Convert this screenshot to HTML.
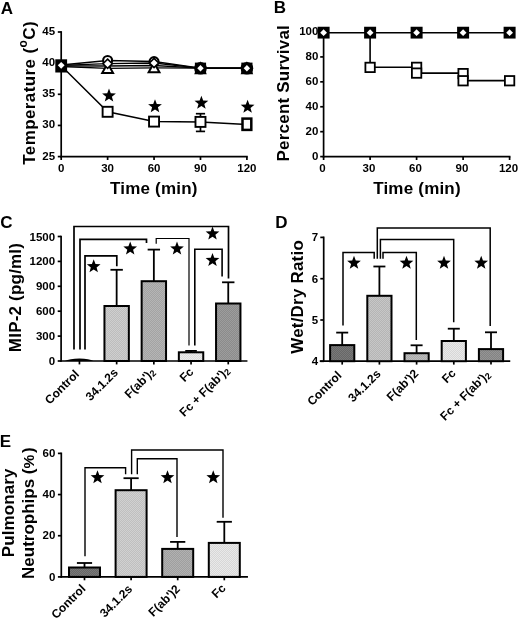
<!DOCTYPE html>
<html><head><meta charset="utf-8"><style>
html,body{margin:0;padding:0;background:#fff;}
svg{display:block;filter:grayscale(1) blur(0.3px);}
text{font-family:"Liberation Sans", sans-serif;font-weight:bold;fill:#000;}
</style></head><body>
<svg width="520" height="619" viewBox="0 0 520 619">
<defs><pattern id="pc6" width="2" height="2" patternUnits="userSpaceOnUse"><rect width="2" height="2" fill="#bdbdbd"/><rect width="1" height="1" fill="#cfcfcf"/><rect x="1" y="1" width="1" height="1" fill="#cfcfcf"/></pattern><pattern id="pac" width="2" height="2" patternUnits="userSpaceOnUse"><rect width="2" height="2" fill="#a3a3a3"/><rect width="1" height="1" fill="#b5b5b5"/><rect x="1" y="1" width="1" height="1" fill="#b5b5b5"/></pattern><pattern id="pe4" width="2" height="2" patternUnits="userSpaceOnUse"><rect width="2" height="2" fill="#dbdbdb"/><rect width="1" height="1" fill="#ededed"/><rect x="1" y="1" width="1" height="1" fill="#ededed"/></pattern><pattern id="p94" width="2" height="2" patternUnits="userSpaceOnUse"><rect width="2" height="2" fill="#8b8b8b"/><rect width="1" height="1" fill="#9d9d9d"/><rect x="1" y="1" width="1" height="1" fill="#9d9d9d"/></pattern><pattern id="p70" width="2" height="2" patternUnits="userSpaceOnUse"><rect width="2" height="2" fill="#676767"/><rect width="1" height="1" fill="#797979"/><rect x="1" y="1" width="1" height="1" fill="#797979"/></pattern><pattern id="pbe" width="2" height="2" patternUnits="userSpaceOnUse"><rect width="2" height="2" fill="#b5b5b5"/><rect width="1" height="1" fill="#c7c7c7"/><rect x="1" y="1" width="1" height="1" fill="#c7c7c7"/></pattern><pattern id="pb4" width="2" height="2" patternUnits="userSpaceOnUse"><rect width="2" height="2" fill="#ababab"/><rect width="1" height="1" fill="#bdbdbd"/><rect x="1" y="1" width="1" height="1" fill="#bdbdbd"/></pattern><pattern id="pe0" width="2" height="2" patternUnits="userSpaceOnUse"><rect width="2" height="2" fill="#d7d7d7"/><rect width="1" height="1" fill="#e9e9e9"/><rect x="1" y="1" width="1" height="1" fill="#e9e9e9"/></pattern><pattern id="p8c" width="2" height="2" patternUnits="userSpaceOnUse"><rect width="2" height="2" fill="#838383"/><rect width="1" height="1" fill="#959595"/><rect x="1" y="1" width="1" height="1" fill="#959595"/></pattern><pattern id="pc8" width="2" height="2" patternUnits="userSpaceOnUse"><rect width="2" height="2" fill="#bfbfbf"/><rect width="1" height="1" fill="#d1d1d1"/><rect x="1" y="1" width="1" height="1" fill="#d1d1d1"/></pattern><pattern id="pa8" width="2" height="2" patternUnits="userSpaceOnUse"><rect width="2" height="2" fill="#9f9f9f"/><rect width="1" height="1" fill="#b1b1b1"/><rect x="1" y="1" width="1" height="1" fill="#b1b1b1"/></pattern></defs>
<rect width="520" height="619" fill="#fff"/>
<text id="tA" x="0.80" y="13.90" font-size="17" text-anchor="start">A</text>
<text id="tB" x="273.80" y="13.40" font-size="17" text-anchor="start">B</text>
<text id="tC" x="0.20" y="228.40" font-size="17" text-anchor="start">C</text>
<text id="tD" x="275.20" y="228.20" font-size="17" text-anchor="start">D</text>
<text id="tE" x="-0.30" y="446.60" font-size="17" text-anchor="start">E</text>
<line x1="61.20" y1="31.15" x2="61.20" y2="157.45" stroke="#000" stroke-width="1.7"/>
<line x1="57.80" y1="32.00" x2="61.20" y2="32.00" stroke="#000" stroke-width="1.7"/>
<text id="Ay45" x="55.10" y="35.00" font-size="11.5" text-anchor="end">45</text>
<line x1="57.80" y1="63.15" x2="61.20" y2="63.15" stroke="#000" stroke-width="1.7"/>
<text id="Ay40" x="55.10" y="66.15" font-size="11.5" text-anchor="end">40</text>
<line x1="57.80" y1="94.30" x2="61.20" y2="94.30" stroke="#000" stroke-width="1.7"/>
<text id="Ay35" x="55.10" y="97.30" font-size="11.5" text-anchor="end">35</text>
<line x1="57.80" y1="125.45" x2="61.20" y2="125.45" stroke="#000" stroke-width="1.7"/>
<text id="Ay30" x="55.10" y="128.45" font-size="11.5" text-anchor="end">30</text>
<line x1="57.80" y1="156.60" x2="61.20" y2="156.60" stroke="#000" stroke-width="1.7"/>
<text id="Ay25" x="55.10" y="159.60" font-size="11.5" text-anchor="end">25</text>
<line x1="60.35" y1="156.60" x2="247.75" y2="156.60" stroke="#000" stroke-width="1.7"/>
<line x1="61.20" y1="156.60" x2="61.20" y2="160.00" stroke="#000" stroke-width="1.7"/>
<text id="Ax0" x="61.20" y="172.20" font-size="11.5" text-anchor="middle">0</text>
<line x1="107.62" y1="156.60" x2="107.62" y2="160.00" stroke="#000" stroke-width="1.7"/>
<text id="Ax30" x="107.62" y="172.20" font-size="11.5" text-anchor="middle">30</text>
<line x1="154.05" y1="156.60" x2="154.05" y2="160.00" stroke="#000" stroke-width="1.7"/>
<text id="Ax60" x="154.05" y="172.20" font-size="11.5" text-anchor="middle">60</text>
<line x1="200.48" y1="156.60" x2="200.48" y2="160.00" stroke="#000" stroke-width="1.7"/>
<text id="Ax90" x="200.48" y="172.20" font-size="11.5" text-anchor="middle">90</text>
<line x1="246.90" y1="156.60" x2="246.90" y2="160.00" stroke="#000" stroke-width="1.7"/>
<text id="Ax120" x="246.90" y="172.20" font-size="11.5" text-anchor="middle">120</text>
<text id="timeA" x="153.80" y="193.50" font-size="17" text-anchor="middle" letter-spacing="0.2">Time (min)</text>
<text id="tempA" x="0" y="0" font-size="17" text-anchor="middle" letter-spacing="0.4" transform="translate(34.50,92.80) rotate(-90)">Temperature (<tspan font-size="12" dy="-7.7">o</tspan><tspan dy="7.7">C)</tspan></text>
<polyline points="61.20,65.00 107.62,60.50 154.05,61.50 200.48,68.20 246.90,68.20" fill="none" stroke="#000" stroke-width="1.3" stroke-linejoin="miter"/>
<polyline points="61.20,65.30 107.62,63.70 154.05,63.00 200.48,68.20 246.90,68.20" fill="none" stroke="#000" stroke-width="1.3" stroke-linejoin="miter"/>
<polyline points="61.20,66.50 107.62,68.30 154.05,67.80 200.48,68.20 246.90,68.20" fill="none" stroke="#000" stroke-width="1.3" stroke-linejoin="miter"/>
<polyline points="61.20,65.80 107.62,66.00 154.05,65.50 200.48,68.20 246.90,68.20" fill="none" stroke="#000" stroke-width="1.3" stroke-linejoin="miter"/>
<polyline points="61.20,65.80 107.62,111.80 154.05,121.60 200.48,121.90 246.90,124.60" fill="none" stroke="#000" stroke-width="1.5" stroke-linejoin="miter"/>
<line x1="200.48" y1="113.70" x2="200.48" y2="131.40" stroke="#000" stroke-width="1.7"/>
<line x1="195.88" y1="113.70" x2="205.08" y2="113.70" stroke="#000" stroke-width="1.7"/>
<line x1="195.88" y1="131.40" x2="205.08" y2="131.40" stroke="#000" stroke-width="1.7"/>
<rect x="102.62" y="106.80" width="10.0" height="10.0" fill="#fff" stroke="#000" stroke-width="1.9"/>
<rect x="149.05" y="116.60" width="10.0" height="10.0" fill="#fff" stroke="#000" stroke-width="1.9"/>
<rect x="195.48" y="116.90" width="10.0" height="10.0" fill="#fff" stroke="#000" stroke-width="1.9"/>
<rect x="242.50" y="118.6" width="8.8" height="11.3" fill="#fff" stroke="#000" stroke-width="2.5"/>
<rect x="55.30" y="59.3" width="11.8" height="13.2" fill="#000"/>
<polygon points="61.20,61.90 64.60,65.30 61.20,68.70 57.80,65.30" fill="#fff"/>
<polygon points="107.62,63.30 113.03,72.90 102.22,72.90" fill="#fff" stroke="#000" stroke-width="2"/>
<circle cx="107.62" cy="60.50" r="4.5" fill="#fff" stroke="#000" stroke-width="2.1"/>
<polygon points="107.62,59.10 112.22,63.70 107.62,68.30 103.03,63.70" fill="#fff" stroke="#000" stroke-width="1.6"/>
<polygon points="154.05,62.60 159.45,72.20 148.65,72.20" fill="#fff" stroke="#000" stroke-width="2"/>
<circle cx="154.05" cy="61.60" r="4.5" fill="#fff" stroke="#000" stroke-width="2.1"/>
<polygon points="154.05,58.40 158.65,63.00 154.05,67.60 149.45,63.00" fill="#fff" stroke="#000" stroke-width="1.6"/>
<rect x="194.88" y="62.60" width="11.2" height="11.2" fill="#000"/>
<circle cx="200.48" cy="68.20" r="6.3" fill="#000"/>
<polygon points="200.48,61.30 206.78,74.20 194.18,74.20" fill="#000"/>
<polygon points="200.48,65.00 203.68,68.20 200.48,71.40 197.28,68.20" fill="#fff"/>
<rect x="241.30" y="62.60" width="11.2" height="11.2" fill="#000"/>
<circle cx="246.90" cy="68.20" r="6.3" fill="#000"/>
<polygon points="246.90,61.30 253.20,74.20 240.60,74.20" fill="#000"/>
<polygon points="246.90,65.00 250.10,68.20 246.90,71.40 243.70,68.20" fill="#fff"/>
<polygon points="109.00,88.45 110.79,93.24 115.90,93.46 111.90,96.64 113.26,101.57 109.00,98.75 104.74,101.57 106.10,96.64 102.10,93.46 107.21,93.24" fill="#000"/>
<polygon points="155.00,99.15 156.79,103.94 161.90,104.16 157.90,107.34 159.26,112.27 155.00,109.45 150.74,112.27 152.10,107.34 148.10,104.16 153.21,103.94" fill="#000"/>
<polygon points="201.40,95.75 203.19,100.54 208.30,100.76 204.30,103.94 205.66,108.87 201.40,106.05 197.14,108.87 198.50,103.94 194.50,100.76 199.61,100.54" fill="#000"/>
<polygon points="247.60,99.75 249.39,104.54 254.50,104.76 250.50,107.94 251.86,112.87 247.60,110.05 243.34,112.87 244.70,107.94 240.70,104.76 245.81,104.54" fill="#000"/>
<line x1="323.60" y1="31.15" x2="323.60" y2="157.45" stroke="#000" stroke-width="1.7"/>
<line x1="320.20" y1="32.00" x2="323.60" y2="32.00" stroke="#000" stroke-width="1.7"/>
<text id="By100" x="318.40" y="35.30" font-size="11.5" text-anchor="end">100</text>
<line x1="320.20" y1="56.92" x2="323.60" y2="56.92" stroke="#000" stroke-width="1.7"/>
<text id="By80" x="318.40" y="60.22" font-size="11.5" text-anchor="end">80</text>
<line x1="320.20" y1="81.84" x2="323.60" y2="81.84" stroke="#000" stroke-width="1.7"/>
<text id="By60" x="318.40" y="85.14" font-size="11.5" text-anchor="end">60</text>
<line x1="320.20" y1="106.76" x2="323.60" y2="106.76" stroke="#000" stroke-width="1.7"/>
<text id="By40" x="318.40" y="110.06" font-size="11.5" text-anchor="end">40</text>
<line x1="320.20" y1="131.68" x2="323.60" y2="131.68" stroke="#000" stroke-width="1.7"/>
<text id="By20" x="318.40" y="134.98" font-size="11.5" text-anchor="end">20</text>
<line x1="320.20" y1="156.60" x2="323.60" y2="156.60" stroke="#000" stroke-width="1.7"/>
<text id="By0" x="318.40" y="159.90" font-size="11.5" text-anchor="end">0</text>
<line x1="322.75" y1="156.60" x2="510.45" y2="156.60" stroke="#000" stroke-width="1.7"/>
<line x1="323.60" y1="156.60" x2="323.60" y2="160.00" stroke="#000" stroke-width="1.7"/>
<text id="Bx0" x="322.50" y="172.20" font-size="11.5" text-anchor="middle">0</text>
<line x1="370.10" y1="156.60" x2="370.10" y2="160.00" stroke="#000" stroke-width="1.7"/>
<text id="Bx30" x="369.00" y="172.20" font-size="11.5" text-anchor="middle">30</text>
<line x1="416.60" y1="156.60" x2="416.60" y2="160.00" stroke="#000" stroke-width="1.7"/>
<text id="Bx60" x="415.50" y="172.20" font-size="11.5" text-anchor="middle">60</text>
<line x1="463.10" y1="156.60" x2="463.10" y2="160.00" stroke="#000" stroke-width="1.7"/>
<text id="Bx90" x="462.00" y="172.20" font-size="11.5" text-anchor="middle">90</text>
<line x1="509.60" y1="156.60" x2="509.60" y2="160.00" stroke="#000" stroke-width="1.7"/>
<text id="Bx120" x="508.50" y="172.20" font-size="11.5" text-anchor="middle">120</text>
<text id="timeB" x="417.00" y="194.10" font-size="17" text-anchor="middle" letter-spacing="0.2">Time (min)</text>
<text id="percB" x="0" y="0" font-size="17" text-anchor="middle" letter-spacing="0.2" transform="translate(289.40,93.20) rotate(-90)">Percent Survival</text>
<line x1="323.60" y1="32.70" x2="509.60" y2="32.70" stroke="#000" stroke-width="1.6"/>
<polyline points="370.10,32.70 370.10,67.30 416.60,67.30" fill="none" stroke="#000" stroke-width="1.6" stroke-linejoin="miter"/>
<polyline points="416.60,73.10 463.10,73.10" fill="none" stroke="#000" stroke-width="1.6" stroke-linejoin="miter"/>
<polyline points="463.10,80.60 509.60,80.60" fill="none" stroke="#000" stroke-width="1.6" stroke-linejoin="miter"/>
<rect x="365.40" y="62.70" width="9.4" height="9.4" fill="#fff" stroke="#000" stroke-width="1.8"/>
<rect x="411.90" y="62.65" width="9.4" height="9.4" fill="#fff" stroke="#000" stroke-width="1.8"/>
<rect x="411.90" y="68.40" width="9.4" height="9.4" fill="#fff" stroke="#000" stroke-width="1.8"/>
<rect x="458.40" y="68.90" width="9.4" height="9.4" fill="#fff" stroke="#000" stroke-width="1.8"/>
<rect x="458.40" y="76.05" width="9.4" height="9.4" fill="#fff" stroke="#000" stroke-width="1.8"/>
<rect x="504.90" y="76.05" width="9.4" height="9.4" fill="#fff" stroke="#000" stroke-width="1.8"/>
<rect x="317.60" y="26.75" width="12" height="11.8" fill="#000"/>
<polygon points="323.60,29.25 327.00,32.65 323.60,36.05 320.20,32.65" fill="#fff"/>
<rect x="364.10" y="26.75" width="12" height="11.8" fill="#000"/>
<polygon points="370.10,29.25 373.50,32.65 370.10,36.05 366.70,32.65" fill="#fff"/>
<rect x="410.60" y="26.75" width="12" height="11.8" fill="#000"/>
<polygon points="416.60,29.25 420.00,32.65 416.60,36.05 413.20,32.65" fill="#fff"/>
<rect x="457.10" y="26.75" width="12" height="11.8" fill="#000"/>
<polygon points="463.10,29.25 466.50,32.65 463.10,36.05 459.70,32.65" fill="#fff"/>
<rect x="503.60" y="26.75" width="12" height="11.8" fill="#000"/>
<polygon points="509.60,29.25 513.00,32.65 509.60,36.05 506.20,32.65" fill="#fff"/>
<line x1="61.10" y1="235.65" x2="61.10" y2="361.85" stroke="#000" stroke-width="1.7"/>
<line x1="57.70" y1="236.50" x2="61.10" y2="236.50" stroke="#000" stroke-width="1.7"/>
<text id="Cy1500" x="55.10" y="240.50" font-size="11.5" text-anchor="end">1500</text>
<line x1="57.70" y1="261.40" x2="61.10" y2="261.40" stroke="#000" stroke-width="1.7"/>
<text id="Cy1200" x="55.10" y="265.40" font-size="11.5" text-anchor="end">1200</text>
<line x1="57.70" y1="286.30" x2="61.10" y2="286.30" stroke="#000" stroke-width="1.7"/>
<text id="Cy900" x="55.10" y="290.30" font-size="11.5" text-anchor="end">900</text>
<line x1="57.70" y1="311.20" x2="61.10" y2="311.20" stroke="#000" stroke-width="1.7"/>
<text id="Cy600" x="55.10" y="315.20" font-size="11.5" text-anchor="end">600</text>
<line x1="57.70" y1="336.10" x2="61.10" y2="336.10" stroke="#000" stroke-width="1.7"/>
<text id="Cy300" x="55.10" y="340.10" font-size="11.5" text-anchor="end">300</text>
<line x1="57.70" y1="361.00" x2="61.10" y2="361.00" stroke="#000" stroke-width="1.7"/>
<text id="Cy0" x="55.10" y="365.00" font-size="11.5" text-anchor="end">0</text>
<line x1="60.25" y1="361.00" x2="247.45" y2="361.00" stroke="#000" stroke-width="1.7"/>
<line x1="79.45" y1="361.00" x2="79.45" y2="364.40" stroke="#000" stroke-width="1.7"/>
<line x1="116.65" y1="361.00" x2="116.65" y2="364.40" stroke="#000" stroke-width="1.7"/>
<line x1="153.85" y1="361.00" x2="153.85" y2="364.40" stroke="#000" stroke-width="1.7"/>
<line x1="191.05" y1="361.00" x2="191.05" y2="364.40" stroke="#000" stroke-width="1.7"/>
<line x1="228.25" y1="361.00" x2="228.25" y2="364.40" stroke="#000" stroke-width="1.7"/>
<line x1="116.65" y1="306.00" x2="116.65" y2="269.80" stroke="#000" stroke-width="1.8"/>
<line x1="110.45" y1="269.80" x2="122.85" y2="269.80" stroke="#000" stroke-width="1.8"/>
<line x1="153.85" y1="281.20" x2="153.85" y2="249.60" stroke="#000" stroke-width="1.8"/>
<line x1="147.65" y1="249.60" x2="160.05" y2="249.60" stroke="#000" stroke-width="1.8"/>
<line x1="191.05" y1="352.30" x2="191.05" y2="350.90" stroke="#000" stroke-width="1.8"/>
<line x1="185.25" y1="350.90" x2="196.85" y2="350.90" stroke="#000" stroke-width="1.8"/>
<line x1="228.25" y1="303.50" x2="228.25" y2="282.30" stroke="#000" stroke-width="1.8"/>
<line x1="222.05" y1="282.30" x2="234.45" y2="282.30" stroke="#000" stroke-width="1.8"/>
<path d="M64.85,361.00 Q69.45,358.40 79.45,358.40 Q89.45,358.40 93.45,361.00 Z" fill="#000"/>
<rect x="104.45" y="306.00" width="24.40" height="55.00" fill="url(#pc6)" stroke="#000" stroke-width="2"/>
<rect x="141.65" y="281.20" width="24.40" height="79.80" fill="url(#pac)" stroke="#000" stroke-width="2"/>
<rect x="178.85" y="352.30" width="24.40" height="8.70" fill="url(#pe4)" stroke="#000" stroke-width="2"/>
<rect x="216.05" y="303.50" width="24.40" height="57.50" fill="url(#p94)" stroke="#000" stroke-width="2"/>
<polyline points="74.00,349.60 74.00,226.50 228.50,226.50 228.50,278.50" fill="none" stroke="#000" stroke-width="1.7" stroke-linejoin="miter"/>
<polyline points="80.00,349.60 80.00,239.40 146.50,239.40 146.50,243.00" fill="none" stroke="#000" stroke-width="1.7" stroke-linejoin="miter"/>
<polyline points="85.00,349.60 85.00,255.80 116.80,255.80 116.80,266.20" fill="none" stroke="#000" stroke-width="1.7" stroke-linejoin="miter"/>
<polyline points="156.20,243.80 156.20,238.50 189.00,238.50 189.00,345.50" fill="none" stroke="#000" stroke-width="1.2" stroke-linejoin="miter"/>
<polyline points="194.80,345.50 194.80,249.20 222.10,249.20 222.10,276.50" fill="none" stroke="#000" stroke-width="1.6" stroke-linejoin="miter"/>
<polygon points="93.70,259.30 95.48,264.05 100.55,264.28 96.58,267.43 97.93,272.32 93.70,269.52 89.47,272.32 90.82,267.43 86.85,264.28 91.92,264.05" fill="#000"/>
<polygon points="130.20,241.50 131.98,246.25 137.05,246.48 133.08,249.63 134.43,254.52 130.20,251.72 125.97,254.52 127.32,249.63 123.35,246.48 128.42,246.25" fill="#000"/>
<polygon points="177.00,241.50 178.78,246.25 183.85,246.48 179.88,249.63 181.23,254.52 177.00,251.72 172.77,254.52 174.12,249.63 170.15,246.48 175.22,246.25" fill="#000"/>
<polygon points="212.50,226.50 214.28,231.25 219.35,231.48 215.38,234.63 216.73,239.52 212.50,236.72 208.27,239.52 209.62,234.63 205.65,231.48 210.72,231.25" fill="#000"/>
<polygon points="212.50,253.00 214.28,257.75 219.35,257.98 215.38,261.13 216.73,266.02 212.50,263.22 208.27,266.02 209.62,261.13 205.65,257.98 210.72,257.75" fill="#000"/>
<text id="mipC" x="0" y="0" font-size="17" text-anchor="middle" letter-spacing="0.2" transform="translate(20.60,297.50) rotate(-90)">MIP-2 (pg/ml)</text>
<text id="rC0" x="0" y="0" font-size="12" text-anchor="end" transform="translate(79.95,374.90) rotate(-45)">Control</text>
<text id="rC1" x="0" y="0" font-size="12" text-anchor="end" transform="translate(118.75,373.20) rotate(-45)">34.1.2s</text>
<text id="rC2" x="0" y="0" font-size="12" text-anchor="end" transform="translate(155.75,372.70) rotate(-45)">F(ab')<tspan font-size="9" dy="1.5">2</tspan></text>
<text id="rC3" x="0" y="0" font-size="12" text-anchor="end" transform="translate(194.35,372.70) rotate(-45)">Fc</text>
<text id="rC4" x="0" y="0" font-size="12" text-anchor="end" transform="translate(230.15,371.40) rotate(-45)">Fc + F(ab')<tspan font-size="9" dy="1.5">2</tspan></text>
<line x1="323.70" y1="236.55" x2="323.70" y2="362.05" stroke="#000" stroke-width="1.7"/>
<line x1="320.30" y1="237.40" x2="323.70" y2="237.40" stroke="#000" stroke-width="1.7"/>
<text id="Dy7" x="318.20" y="241.30" font-size="11.5" text-anchor="end">7</text>
<line x1="320.30" y1="278.70" x2="323.70" y2="278.70" stroke="#000" stroke-width="1.7"/>
<text id="Dy6" x="318.20" y="282.60" font-size="11.5" text-anchor="end">6</text>
<line x1="320.30" y1="320.00" x2="323.70" y2="320.00" stroke="#000" stroke-width="1.7"/>
<text id="Dy5" x="318.20" y="323.90" font-size="11.5" text-anchor="end">5</text>
<line x1="320.30" y1="361.30" x2="323.70" y2="361.30" stroke="#000" stroke-width="1.7"/>
<text id="Dy4" x="318.20" y="365.20" font-size="11.5" text-anchor="end">4</text>
<line x1="319.75" y1="361.20" x2="510.25" y2="361.20" stroke="#000" stroke-width="1.7"/>
<line x1="342.20" y1="361.20" x2="342.20" y2="364.60" stroke="#000" stroke-width="1.7"/>
<line x1="379.40" y1="361.20" x2="379.40" y2="364.60" stroke="#000" stroke-width="1.7"/>
<line x1="416.60" y1="361.20" x2="416.60" y2="364.60" stroke="#000" stroke-width="1.7"/>
<line x1="453.80" y1="361.20" x2="453.80" y2="364.60" stroke="#000" stroke-width="1.7"/>
<line x1="491.00" y1="361.20" x2="491.00" y2="364.60" stroke="#000" stroke-width="1.7"/>
<line x1="342.20" y1="345.10" x2="342.20" y2="332.60" stroke="#000" stroke-width="1.8"/>
<line x1="336.20" y1="332.60" x2="348.20" y2="332.60" stroke="#000" stroke-width="1.8"/>
<line x1="379.40" y1="295.80" x2="379.40" y2="266.50" stroke="#000" stroke-width="1.8"/>
<line x1="373.40" y1="266.50" x2="385.40" y2="266.50" stroke="#000" stroke-width="1.8"/>
<line x1="416.60" y1="353.20" x2="416.60" y2="345.30" stroke="#000" stroke-width="1.8"/>
<line x1="410.60" y1="345.30" x2="422.60" y2="345.30" stroke="#000" stroke-width="1.8"/>
<line x1="453.80" y1="341.00" x2="453.80" y2="328.70" stroke="#000" stroke-width="1.8"/>
<line x1="447.80" y1="328.70" x2="459.80" y2="328.70" stroke="#000" stroke-width="1.8"/>
<line x1="491.00" y1="349.10" x2="491.00" y2="332.30" stroke="#000" stroke-width="1.8"/>
<line x1="485.00" y1="332.30" x2="497.00" y2="332.30" stroke="#000" stroke-width="1.8"/>
<rect x="330.10" y="345.10" width="24.20" height="16.10" fill="url(#p70)" stroke="#000" stroke-width="2"/>
<rect x="367.30" y="295.80" width="24.20" height="65.40" fill="url(#pbe)" stroke="#000" stroke-width="2"/>
<rect x="404.50" y="353.20" width="24.20" height="8.00" fill="url(#pb4)" stroke="#000" stroke-width="2"/>
<rect x="441.70" y="341.00" width="24.20" height="20.20" fill="url(#pe0)" stroke="#000" stroke-width="2"/>
<rect x="478.90" y="349.10" width="24.20" height="12.10" fill="url(#p8c)" stroke="#000" stroke-width="2"/>
<polyline points="343.00,325.40 343.00,252.50 374.20,252.50 374.20,258.80" fill="none" stroke="#000" stroke-width="1.5" stroke-linejoin="miter"/>
<polyline points="377.30,258.80 377.30,227.90 490.20,227.90 490.20,326.10" fill="none" stroke="#000" stroke-width="1.5" stroke-linejoin="miter"/>
<polyline points="380.40,258.80 380.40,239.40 453.70,239.40 453.70,322.30" fill="none" stroke="#000" stroke-width="1.5" stroke-linejoin="miter"/>
<polyline points="383.00,258.80 383.00,252.50 416.30,252.50 416.30,339.90" fill="none" stroke="#000" stroke-width="1.5" stroke-linejoin="miter"/>
<polygon points="354.00,255.80 355.78,260.55 360.85,260.78 356.88,263.93 358.23,268.82 354.00,266.02 349.77,268.82 351.12,263.93 347.15,260.78 352.22,260.55" fill="#000"/>
<polygon points="406.50,255.80 408.28,260.55 413.35,260.78 409.38,263.93 410.73,268.82 406.50,266.02 402.27,268.82 403.62,263.93 399.65,260.78 404.72,260.55" fill="#000"/>
<polygon points="444.00,255.80 445.78,260.55 450.85,260.78 446.88,263.93 448.23,268.82 444.00,266.02 439.77,268.82 441.12,263.93 437.15,260.78 442.22,260.55" fill="#000"/>
<polygon points="481.20,255.80 482.98,260.55 488.05,260.78 484.08,263.93 485.43,268.82 481.20,266.02 476.97,268.82 478.32,263.93 474.35,260.78 479.42,260.55" fill="#000"/>
<text id="wetD" x="0" y="0" font-size="17" text-anchor="middle" letter-spacing="0.2" transform="translate(303.10,296.90) rotate(-90)">Wet/Dry Ratio</text>
<text id="rD0" x="0" y="0" font-size="12" text-anchor="end" transform="translate(342.40,376.10) rotate(-45)">Control</text>
<text id="rD1" x="0" y="0" font-size="12" text-anchor="end" transform="translate(381.40,374.50) rotate(-45)">34.1.2s</text>
<text id="rD2" x="0" y="0" font-size="12" text-anchor="end" transform="translate(419.10,374.20) rotate(-45)">F(ab')2</text>
<text id="rD3" x="0" y="0" font-size="12" text-anchor="end" transform="translate(456.60,373.90) rotate(-45)">Fc</text>
<text id="rD4" x="0" y="0" font-size="12" text-anchor="end" transform="translate(490.90,375.30) rotate(-45)">Fc + F(ab')<tspan font-size="9" dy="1.5">2</tspan></text>
<line x1="61.30" y1="452.54" x2="61.30" y2="577.75" stroke="#000" stroke-width="1.7"/>
<line x1="57.90" y1="453.39" x2="61.30" y2="453.39" stroke="#000" stroke-width="1.7"/>
<text id="Ey60" x="55.30" y="457.09" font-size="11.5" text-anchor="end">60</text>
<line x1="57.90" y1="494.56" x2="61.30" y2="494.56" stroke="#000" stroke-width="1.7"/>
<text id="Ey40" x="55.30" y="498.26" font-size="11.5" text-anchor="end">40</text>
<line x1="57.90" y1="535.73" x2="61.30" y2="535.73" stroke="#000" stroke-width="1.7"/>
<text id="Ey20" x="55.30" y="539.43" font-size="11.5" text-anchor="end">20</text>
<line x1="57.90" y1="576.90" x2="61.30" y2="576.90" stroke="#000" stroke-width="1.7"/>
<text id="Ey0" x="55.30" y="580.60" font-size="11.5" text-anchor="end">0</text>
<line x1="60.45" y1="576.90" x2="247.95" y2="576.90" stroke="#000" stroke-width="1.7"/>
<line x1="84.50" y1="576.90" x2="84.50" y2="580.30" stroke="#000" stroke-width="1.7"/>
<line x1="131.10" y1="576.90" x2="131.10" y2="580.30" stroke="#000" stroke-width="1.7"/>
<line x1="177.70" y1="576.90" x2="177.70" y2="580.30" stroke="#000" stroke-width="1.7"/>
<line x1="224.30" y1="576.90" x2="224.30" y2="580.30" stroke="#000" stroke-width="1.7"/>
<line x1="84.50" y1="567.50" x2="84.50" y2="563.00" stroke="#000" stroke-width="1.8"/>
<line x1="76.90" y1="563.00" x2="92.10" y2="563.00" stroke="#000" stroke-width="1.8"/>
<line x1="131.10" y1="490.20" x2="131.10" y2="478.20" stroke="#000" stroke-width="1.8"/>
<line x1="123.50" y1="478.20" x2="138.70" y2="478.20" stroke="#000" stroke-width="1.8"/>
<line x1="177.70" y1="548.90" x2="177.70" y2="541.90" stroke="#000" stroke-width="1.8"/>
<line x1="170.10" y1="541.90" x2="185.30" y2="541.90" stroke="#000" stroke-width="1.8"/>
<line x1="224.30" y1="542.90" x2="224.30" y2="521.80" stroke="#000" stroke-width="1.8"/>
<line x1="216.70" y1="521.80" x2="231.90" y2="521.80" stroke="#000" stroke-width="1.8"/>
<rect x="69.00" y="567.50" width="31.00" height="9.40" fill="url(#p70)" stroke="#000" stroke-width="2"/>
<rect x="115.60" y="490.20" width="31.00" height="86.70" fill="url(#pc8)" stroke="#000" stroke-width="2"/>
<rect x="162.20" y="548.90" width="31.00" height="28.00" fill="url(#pa8)" stroke="#000" stroke-width="2"/>
<rect x="208.80" y="542.90" width="31.00" height="34.00" fill="url(#pe0)" stroke="#000" stroke-width="2"/>
<polyline points="85.00,556.30 85.00,467.70 125.60,467.70 125.60,474.30" fill="none" stroke="#000" stroke-width="1.4" stroke-linejoin="miter"/>
<polyline points="131.60,474.30 131.60,450.00 223.00,450.00 223.00,517.70" fill="none" stroke="#000" stroke-width="1.4" stroke-linejoin="miter"/>
<polyline points="137.30,474.30 137.30,458.75 177.00,458.75 177.00,536.90" fill="none" stroke="#000" stroke-width="1.4" stroke-linejoin="miter"/>
<polygon points="97.50,470.30 99.28,475.05 104.35,475.28 100.38,478.43 101.73,483.32 97.50,480.52 93.27,483.32 94.62,478.43 90.65,475.28 95.72,475.05" fill="#000"/>
<polygon points="167.50,470.30 169.28,475.05 174.35,475.28 170.38,478.43 171.73,483.32 167.50,480.52 163.27,483.32 164.62,478.43 160.65,475.28 165.72,475.05" fill="#000"/>
<polygon points="213.25,470.30 215.03,475.05 220.10,475.28 216.13,478.43 217.48,483.32 213.25,480.52 209.02,483.32 210.37,478.43 206.40,475.28 211.47,475.05" fill="#000"/>
<text id="pulE" x="0" y="0" font-size="17" text-anchor="middle" letter-spacing="0.1" transform="translate(13.90,512.80) rotate(-90)">Pulmonary</text>
<text id="neuE" x="0" y="0" font-size="17" text-anchor="middle" transform="translate(34.10,513.20) rotate(-90)">Neutrophips (<tspan font-size="15.5">%</tspan><tspan dx="1.6">)</tspan></text>
<text id="rE0" x="0" y="0" font-size="12" text-anchor="end" transform="translate(86.30,589.40) rotate(-45)">Control</text>
<text id="rE1" x="0" y="0" font-size="12" text-anchor="end" transform="translate(133.10,589.80) rotate(-45)">34.1.2s</text>
<text id="rE2" x="0" y="0" font-size="12" text-anchor="end" transform="translate(180.80,589.70) rotate(-45)">F(ab')2</text>
<text id="rE3" x="0" y="0" font-size="12" text-anchor="end" transform="translate(226.50,588.90) rotate(-45)">Fc</text>
</svg></body></html>
